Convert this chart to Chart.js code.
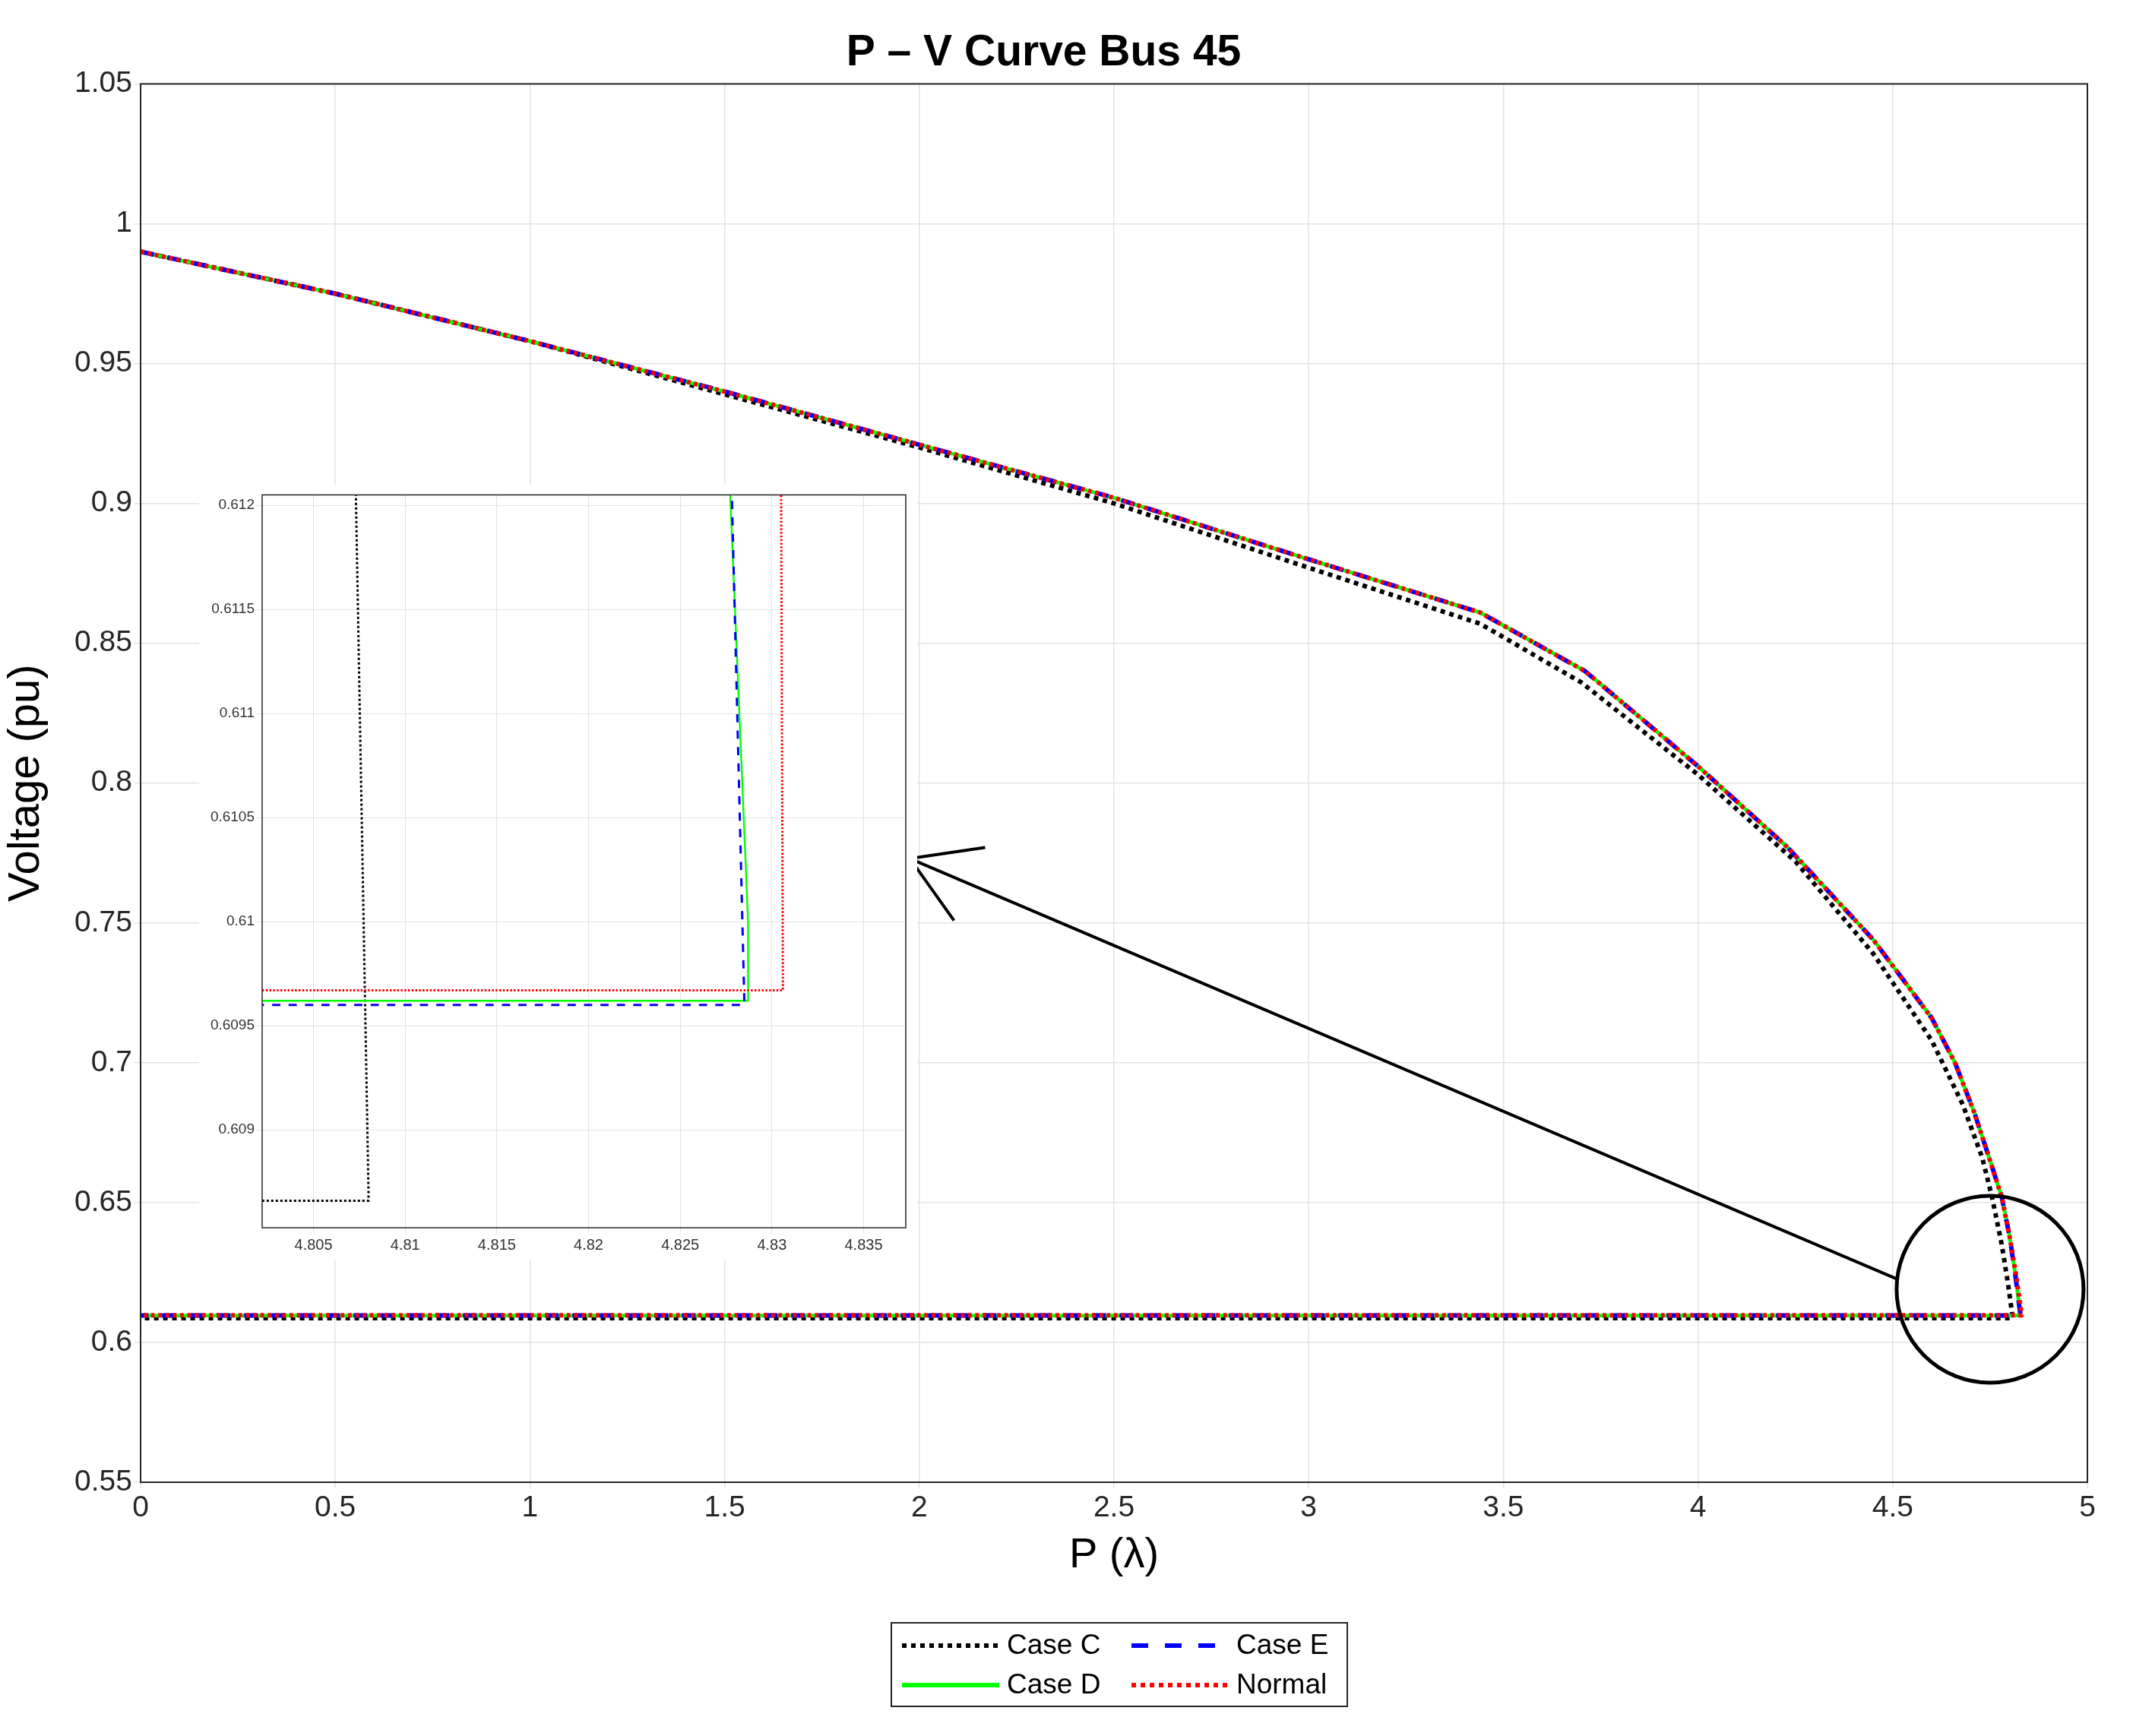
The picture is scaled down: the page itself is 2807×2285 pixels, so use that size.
<!DOCTYPE html>
<html><head><meta charset="utf-8">
<script src="https://cdn.jsdelivr.net/npm/chart.js@4"></script>
<style>
body{margin:0;background:#fff}
#wrap{position:relative;width:2807px;height:2285px}
#main{position:absolute;left:0;top:0}
#inset{position:absolute;left:262px;top:638px;background:#fff}
</style></head><body>
<div id="wrap"><canvas id="main" width="2807" height="2285"></canvas><canvas id="inset" width="945" height="1020"></canvas></div>
<script>
// main curve (P, V)
const caseC_P = [0, 0.5, 1, 1.5, 2, 2.5, 3, 3.44, 3.7, 4, 4.25, 4.45, 4.6, 4.68, 4.73, 4.755, 4.78, 4.795, 4.805, 4.808, 0];
const caseC_V = [0.99, 0.975, 0.958, 0.939, 0.92, 0.9, 0.877, 0.857, 0.836, 0.803, 0.772, 0.739, 0.708, 0.685, 0.666, 0.652, 0.635, 0.622, 0.612, 0.6087, 0.6087];
const caseD_P = [0, 0.5, 1, 1.5, 2, 2.5, 3, 3.44, 3.71, 4, 4.23, 4.45, 4.6, 4.66, 4.71, 4.75, 4.78, 4.80, 4.815, 4.825, 4.8287, 0];
const caseD_V = [0.99, 0.975, 0.958, 0.94, 0.921, 0.902, 0.88, 0.861, 0.840, 0.806, 0.777, 0.744, 0.716, 0.700, 0.682, 0.665, 0.652, 0.638, 0.624, 0.613, 0.6096, 0.6096];
const caseE_P = [0, 0.5, 1, 1.5, 2, 2.5, 3, 3.44, 3.71, 4, 4.23, 4.45, 4.6, 4.66, 4.71, 4.75, 4.78, 4.80, 4.815, 4.825, 4.8285, 0];
const caseE_V = [0.99, 0.975, 0.958, 0.94, 0.921, 0.902, 0.88, 0.861, 0.840, 0.806, 0.777, 0.744, 0.716, 0.700, 0.682, 0.665, 0.652, 0.638, 0.624, 0.613, 0.6096, 0.6096];
const normal_P = [0, 0.5, 1, 1.5, 2, 2.5, 3, 3.44, 3.71, 4, 4.23, 4.45, 4.6, 4.66, 4.71, 4.75, 4.78, 4.80, 4.817, 4.829, 4.8306, 0];
const normal_V = [0.99, 0.975, 0.958, 0.94, 0.921, 0.902, 0.88, 0.861, 0.840, 0.806, 0.777, 0.744, 0.716, 0.700, 0.682, 0.665, 0.652, 0.638, 0.624, 0.612, 0.60967, 0.60967];

// zoomed detail near the nose
const zC_P = [4.8073, 4.8080, 4.8080, 4.80];
const zC_V = [0.6121, 0.6087, 0.60866, 0.60866];
const zD_P = [4.8277, 4.8287, 4.8287, 4.80];
const zD_V = [0.6121, 0.6100, 0.60962, 0.60962];
const zE_P = [4.8278, 4.8285, 4.8285, 4.80];
const zE_V = [0.6121, 0.60960, 0.60960, 0.60960];
const zN_P = [4.8305, 4.8306, 4.8306, 4.80];
const zN_V = [0.6121, 0.60967, 0.60967, 0.60967];

const seriesNames = ['Case C', 'Case D', 'Case E', 'Normal'];
const seriesColors = ['#000000', '#00ff00', '#0000ff', '#ff0000'];
const xTicks = [0, 0.5, 1, 1.5, 2, 2.5, 3, 3.5, 4, 4.5, 5];
const yTicks = [0.55, 0.6, 0.65, 0.7, 0.75, 0.8, 0.85, 0.9, 0.95, 1, 1.05];

const pts = (xs, ys) => xs.map((x, i) => ({x: x, y: ys[i]}));
const fmt = v => String(+v.toFixed(4));
const FONT = 'Liberation Sans, Arial, sans-serif';

function makeSets(lists, w, scaleDash) {
  const dashes = [[w, w], [], [w * 3 * scaleDash, w * 3 * scaleDash], [w * 0.8, w * 0.8]];
  const orders = [4, 3, 2, 1];
  return lists.map((l, i) => ({
    label: seriesNames[i], data: pts(l[0], l[1]), borderColor: seriesColors[i],
    borderWidth: i === 1 ? w * 0.8 : w, borderDash: dashes[i], pointRadius: 0,
    fill: false, tension: 0, order: orders[i], borderJoinStyle: 'round'
  }));
}

const boxPlugin = {
  id: 'box',
  afterDraw(chart) {
    const a = chart.chartArea, c = chart.ctx;
    c.save(); c.strokeStyle = '#262626'; c.lineWidth = chart.canvas.id === 'main' ? 2 : 1.5;
    c.strokeRect(a.left, a.top, a.right - a.left, a.bottom - a.top);
    c.restore();
  }
};

const mainExtras = {
  id: 'extras',
  afterDatasetsDraw(chart) {
    const c = chart.ctx, xs = chart.scales.x, ys = chart.scales.y;
    c.save(); c.strokeStyle = '#000'; c.lineWidth = 5;
    const cx = xs.getPixelForValue(4.75), cy = ys.getPixelForValue(0.619);
    c.beginPath(); c.arc(cx, cy, 123, 0, Math.PI * 2); c.stroke();
    const x1 = cx - 121, y1 = ys.getPixelForValue(0.6225);
    const x2 = xs.getPixelForValue(1.976), y2 = ys.getPixelForValue(0.773);
    c.lineWidth = 4;
    c.beginPath(); c.moveTo(x1, y1); c.lineTo(x2, y2); c.stroke();
    const ang = Math.atan2(y1 - y2, x1 - x2);
    c.beginPath();
    c.moveTo(x2 + 100 * Math.cos(ang - 0.55), y2 + 100 * Math.sin(ang - 0.55));
    c.lineTo(x2, y2);
    c.lineTo(x2 + 100 * Math.cos(ang + 0.55), y2 + 100 * Math.sin(ang + 0.55));
    c.stroke();
    c.restore();
  },
  afterDraw(chart) {
    const c = chart.ctx;
    const L = 1173, T = 2136, W = 600, H = 110;
    c.save();
    c.fillStyle = '#fff'; c.fillRect(L, T, W, H);
    c.strokeStyle = '#262626'; c.lineWidth = 2; c.strokeRect(L, T, W, H);
    c.font = '37px ' + FONT; c.fillStyle = '#000'; c.textBaseline = 'middle';
    const cells = [[0, 0, 0], [1, 0, 1], [2, 1, 0], [3, 1, 1]];
    const dashes = [[6, 6], [], [22, 22], [6, 6]];
    cells.forEach(([i, col, row]) => {
      const x = L + 14 + col * 302, y = T + 30 + row * 52;
      c.strokeStyle = seriesColors[i]; c.lineWidth = 6; c.setLineDash(dashes[i]);
      c.beginPath(); c.moveTo(x, y); c.lineTo(x + 128, y); c.stroke();
      c.setLineDash([]);
      c.fillText(seriesNames[i], x + 138, y + 1);
    });
    c.restore();
  }
};

new Chart(document.getElementById('main'), {
  type: 'line',
  data: {datasets: makeSets([[caseC_P, caseC_V], [caseD_P, caseD_V], [caseE_P, caseE_V], [normal_P, normal_V]], 6, 1)},
  options: {
    responsive: false, animation: false, devicePixelRatio: 1,
    layout: {padding: {left: 0, right: 60, top: 0, bottom: 200}},
    plugins: {
      legend: {display: false}, tooltip: {enabled: false},
      title: {display: true, text: 'P – V Curve Bus 45', color: '#000',
        font: {family: FONT, size: 57, weight: 'bold'}, padding: {top: 36, bottom: 6}}
    },
    scales: {
      x: {type: 'linear', min: 0, max: 5,
        afterBuildTicks: s => { s.ticks = xTicks.map(v => ({value: v})); },
        afterFit: s => { s.height = 134; },
        ticks: {color: '#262626', font: {family: FONT, size: 39}, callback: fmt, maxRotation: 0},
        grid: {color: '#e3e3e3', lineWidth: 1.5}, border: {display: false},
        title: {display: true, text: 'P (λ)', color: '#000', font: {family: FONT, size: 56}, padding: {top: 0}}},
      y: {type: 'linear', min: 0.55, max: 1.05,
        afterBuildTicks: s => { s.ticks = yTicks.map(v => ({value: v})); },
        afterFit: s => { s.width = 185; },
        ticks: {color: '#262626', font: {family: FONT, size: 39}, callback: fmt},
        grid: {color: '#e3e3e3', lineWidth: 1.5}, border: {display: false},
        title: {display: true, text: 'Voltage (pu)', color: '#000', font: {family: FONT, size: 58}, padding: {top: 0, bottom: 0}}}
    }
  },
  plugins: [boxPlugin, mainExtras]
});

const zxTicks = [4.805, 4.81, 4.815, 4.82, 4.825, 4.83, 4.835];
const zyTicks = [0.609, 0.6095, 0.61, 0.6105, 0.611, 0.6115, 0.612];

new Chart(document.getElementById('inset'), {
  type: 'line',
  data: {datasets: makeSets([[zC_P, zC_V], [zD_P, zD_V], [zE_P, zE_V], [zN_P, zN_V]], 3, 1.2)},
  options: {
    responsive: false, animation: false, devicePixelRatio: 1,
    layout: {padding: {left: 0, right: 15, top: 12, bottom: 0}},
    plugins: {legend: {display: false}, tooltip: {enabled: false}},
    scales: {
      x: {type: 'linear', min: 4.8022, max: 4.8373,
        afterBuildTicks: s => { s.ticks = zxTicks.map(v => ({value: v})); },
        afterFit: s => { s.height = 42; },
        ticks: {color: '#333', font: {family: FONT, size: 20}, callback: fmt, maxRotation: 0},
        grid: {color: '#e3e3e3'}, border: {display: false}},
      y: {type: 'linear', min: 0.60853, max: 0.61205,
        afterBuildTicks: s => { s.ticks = zyTicks.map(v => ({value: v})); },
        afterFit: s => { s.width = 83; },
        ticks: {color: '#333', font: {family: FONT, size: 19}, callback: fmt, padding: 2},
        grid: {color: '#e3e3e3'}, border: {display: false}}
    }
  },
  plugins: [boxPlugin]
});
</script>
</body></html>
